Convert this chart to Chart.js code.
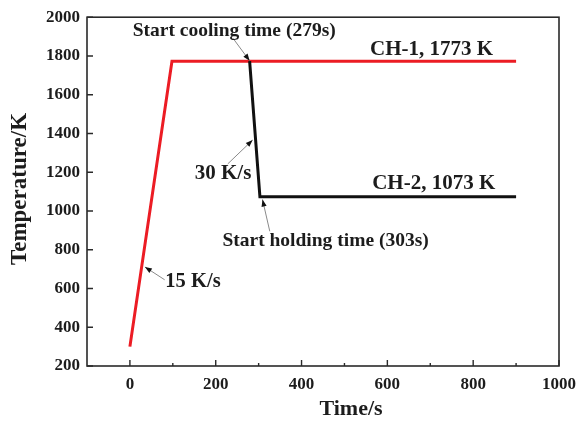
<!DOCTYPE html>
<html>
<head>
<meta charset="utf-8">
<script src="https://cdn.jsdelivr.net/npm/chart.js@4/dist/chart.umd.min.js"></script>
<style>
  html, body { margin: 0; padding: 0; background: #fff; }
  #wrap { width: 584px; height: 421px; }
</style>
</head>
<body>
<div id="wrap"><canvas id="chart"></canvas></div>
<script>
// heating curve (CH-1) and cooling curve (CH-2)
const heatTime = [0, 98, 900];
const heatTemp = [300, 1773, 1773];
const coolTime = [279, 303, 900];
const coolTemp = [1773, 1073, 1073];

const xTicks = [0, 200, 400, 600, 800, 1000];
const xMinorTicks = [100, 300, 500, 700, 900];
const yTicks = [200, 400, 600, 800, 1000, 1200, 1400, 1600, 1800, 2000];

// text labels and arrows, placed in data units
const labels = [
    { text: 'Start cooling time (279s)', x: 243, y: 1928, size: 19.5 },
    { text: 'CH-1, 1773 K', x: 703, y: 1831, size: 21 },
    { text: 'CH-2, 1073 K', x: 708, y: 1141, size: 21 },
    { text: '30 K/s', x: 217, y: 1192, size: 21 },
    { text: '15 K/s', x: 147, y: 635, size: 20.5 },
    { text: 'Start holding time (303s)', x: 456, y: 844, size: 19.5 }
];
const arrows = [
    { from: [240, 1892], to: [279, 1775] },
    { from: [228, 1243], to: [286, 1366] },
    { from: [326, 895], to: [309, 1059] },
    { from: [81, 645], to: [35, 711] }
];

const FONT = '"Liberation Serif", "Times New Roman", serif';
const INK = '#1c1c1c';

const toPoints = (xs, ys) => xs.map((x, i) => ({ x: x, y: ys[i] }));

const decorPlugin = {
    id: 'decor',
    afterDatasetsDraw(chart) {
        const ctx = chart.ctx;
        const area = chart.chartArea;
        const xs = chart.scales.x;
        const ys = chart.scales.y;
        ctx.save();

        // frame
        ctx.strokeStyle = '#2a2a2a';
        ctx.lineWidth = 1.6;
        ctx.strokeRect(area.left, area.top, area.right - area.left, area.bottom - area.top);

        // inward ticks
        ctx.lineWidth = 1.4;
        ctx.beginPath();
        xTicks.forEach(v => {
            const px = xs.getPixelForValue(v);
            ctx.moveTo(px, area.bottom);
            ctx.lineTo(px, area.bottom - 6);
        });
        xMinorTicks.forEach(v => {
            const px = xs.getPixelForValue(v);
            ctx.moveTo(px, area.bottom);
            ctx.lineTo(px, area.bottom - 3);
        });
        yTicks.forEach(v => {
            const py = ys.getPixelForValue(v);
            ctx.moveTo(area.left, py);
            ctx.lineTo(area.left + 6, py);
        });
        ctx.stroke();

        // arrows
        arrows.forEach(a => {
            const x1 = xs.getPixelForValue(a.from[0]), y1 = ys.getPixelForValue(a.from[1]);
            const x2 = xs.getPixelForValue(a.to[0]), y2 = ys.getPixelForValue(a.to[1]);
            ctx.strokeStyle = '#8a8a8a';
            ctx.lineWidth = 1;
            ctx.beginPath();
            ctx.moveTo(x1, y1);
            ctx.lineTo(x2, y2);
            ctx.stroke();
            const ang = Math.atan2(y2 - y1, x2 - x1);
            const len = 7, wid = 2.6;
            ctx.fillStyle = '#111';
            ctx.beginPath();
            ctx.moveTo(x2, y2);
            ctx.lineTo(x2 - len * Math.cos(ang) + wid * Math.sin(ang), y2 - len * Math.sin(ang) - wid * Math.cos(ang));
            ctx.lineTo(x2 - len * Math.cos(ang) - wid * Math.sin(ang), y2 - len * Math.sin(ang) + wid * Math.cos(ang));
            ctx.closePath();
            ctx.fill();
        });

        // labels
        ctx.fillStyle = INK;
        ctx.textAlign = 'center';
        ctx.textBaseline = 'middle';
        labels.forEach(l => {
            ctx.font = 'bold ' + l.size + 'px ' + FONT;
            ctx.fillText(l.text, xs.getPixelForValue(l.x), ys.getPixelForValue(l.y));
        });

        // axis titles
        ctx.font = 'bold 22px ' + FONT;
        ctx.fillText('Time/s', 351, 409);
        ctx.font = 'bold 23px ' + FONT;
        ctx.translate(20, 189);
        ctx.rotate(-Math.PI / 2);
        ctx.fillText('Temperature/K', 0, 0);
        ctx.restore();
    }
};

new Chart(document.getElementById('chart'), {
    type: 'scatter',
    data: {
        datasets: [{
            label: 'CH-1',
            data: toPoints(heatTime, heatTemp),
            showLine: true,
            borderColor: '#ec1c24',
            borderWidth: 3,
            pointRadius: 0,
            order: 2
        }, {
            label: 'CH-2',
            data: toPoints(coolTime, coolTemp),
            showLine: true,
            borderColor: '#111111',
            borderWidth: 3,
            pointRadius: 0,
            order: 1
        }]
    },
    options: {
        responsive: true,
        maintainAspectRatio: false,
        animation: false,
        layout: { padding: { left: 0, top: 14, right: 24, bottom: 0 } },
        plugins: {
            legend: { display: false },
            tooltip: { enabled: false }
        },
        scales: {
            x: {
                type: 'linear',
                min: -100, max: 1000,
                afterBuildTicks: s => { s.ticks = xTicks.map(v => ({ value: v })); },
                afterFit: s => { s.height = 55; },
                grid: { display: false, drawTicks: false },
                border: { display: false },
                ticks: {
                    padding: 8,
                    color: INK,
                    font: { family: FONT, size: 17, weight: 'bold' },
                    callback: v => String(v)
                }
            },
            y: {
                type: 'linear',
                min: 200, max: 2000,
                afterBuildTicks: s => { s.ticks = yTicks.map(v => ({ value: v })); },
                afterFit: s => { s.width = 87; },
                grid: { display: false, drawTicks: false },
                border: { display: false },
                ticks: {
                    padding: 7,
                    color: INK,
                    font: { family: FONT, size: 17, weight: 'bold' },
                    callback: v => String(v)
                }
            }
        }
    },
    plugins: [decorPlugin]
});
</script>
</body>
</html>
